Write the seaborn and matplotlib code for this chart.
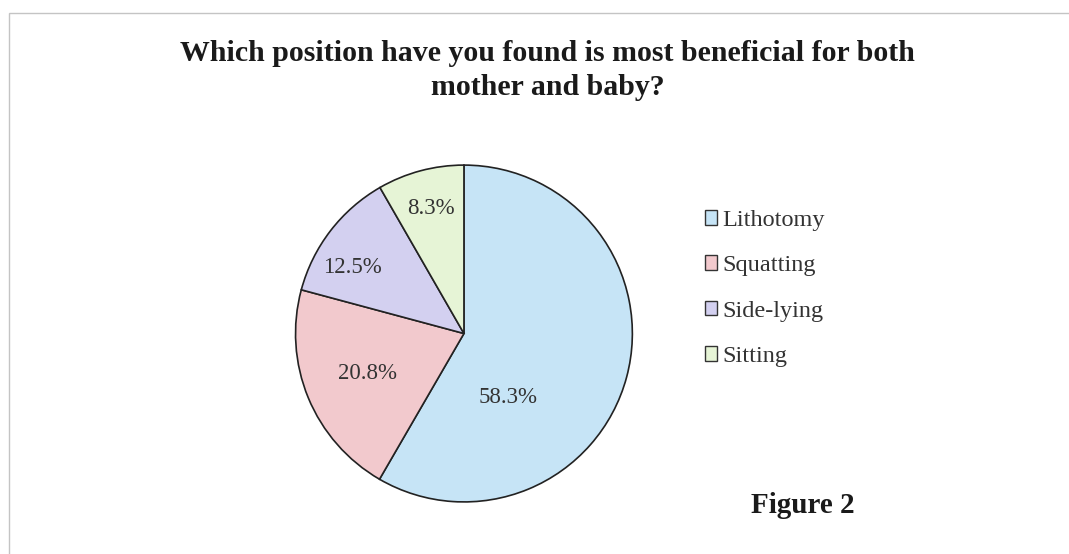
import numpy as np
import matplotlib
matplotlib.use("Agg")
import matplotlib.pyplot as plt
import seaborn as sns
from matplotlib.patches import Rectangle, Patch

categories = ["Lithotomy", "Squatting", "Side-lying", "Sitting"]
values = [58.3, 20.8, 12.5, 8.3]
value_labels = ["58.3%", "20.8%", "12.5%", "8.3%"]
title = "Which position have you found is most beneficial for both\nmother and baby?"
note = "Figure 2"

sns.set_theme(style="white")
plt.rcParams['font.family'] = ['Liberation Serif', 'DejaVu Serif']

colors = sns.color_palette(["#c6e4f6", "#f2c9cd", "#d3d0f0", "#e6f4d6"])

fig = plt.figure(figsize=(10.69, 5.54), dpi=100)
fig.patch.set_facecolor("white")

# faint frame of the embedded chart
fig.add_artist(Rectangle((0.0085, -0.05), 1.2, 1.026, transform=fig.transFigure,
                         fill=False, edgecolor="#c4c4c4", linewidth=1.0))

ax = fig.add_axes([0.276, 0.094, 0.316, 0.608])
wedges, _ = ax.pie(values, colors=colors, startangle=90, counterclock=False,
                   wedgeprops=dict(edgecolor="#222222", linewidth=1.2))
ax.set_xlim(-1, 1)
ax.set_ylim(-1, 1)
ax.set_aspect("equal")
ax.axis("off")

# label placement (radius, angular offset from wedge centre)
place = [(0.46, -40), (0.62, 0), (0.77, 7), (0.77, 0)]
for w, lab, (r, off) in zip(wedges, value_labels, place):
    ang = np.deg2rad((w.theta1 + w.theta2) / 2 + off)
    ax.text(r * np.cos(ang), r * np.sin(ang), lab, ha="center", va="center",
            fontsize=16.5, color="#333333")

fig.text(0.512, 0.873, title, ha="center", va="center", fontsize=21.5,
         fontweight="bold", color="#1a1a1a", linespacing=1.35)

handles = [Patch(facecolor=c, edgecolor="#333333", linewidth=1.0) for c in colors]
leg = fig.legend(handles, categories, loc="upper left",
                 bbox_to_anchor=(0.648, 0.643), frameon=False, fontsize=17.5,
                 labelspacing=1.0, handlelength=0.5, handleheight=0.55,
                 handletextpad=0.2, borderpad=0)
for t in leg.get_texts():
    t.set_color("#333333")

fig.text(0.751, 0.088, note, ha="center", va="center", fontsize=21,
         fontweight="bold", color="#1a1a1a")

fig.savefig("out.png", dpi=100, facecolor="white")
